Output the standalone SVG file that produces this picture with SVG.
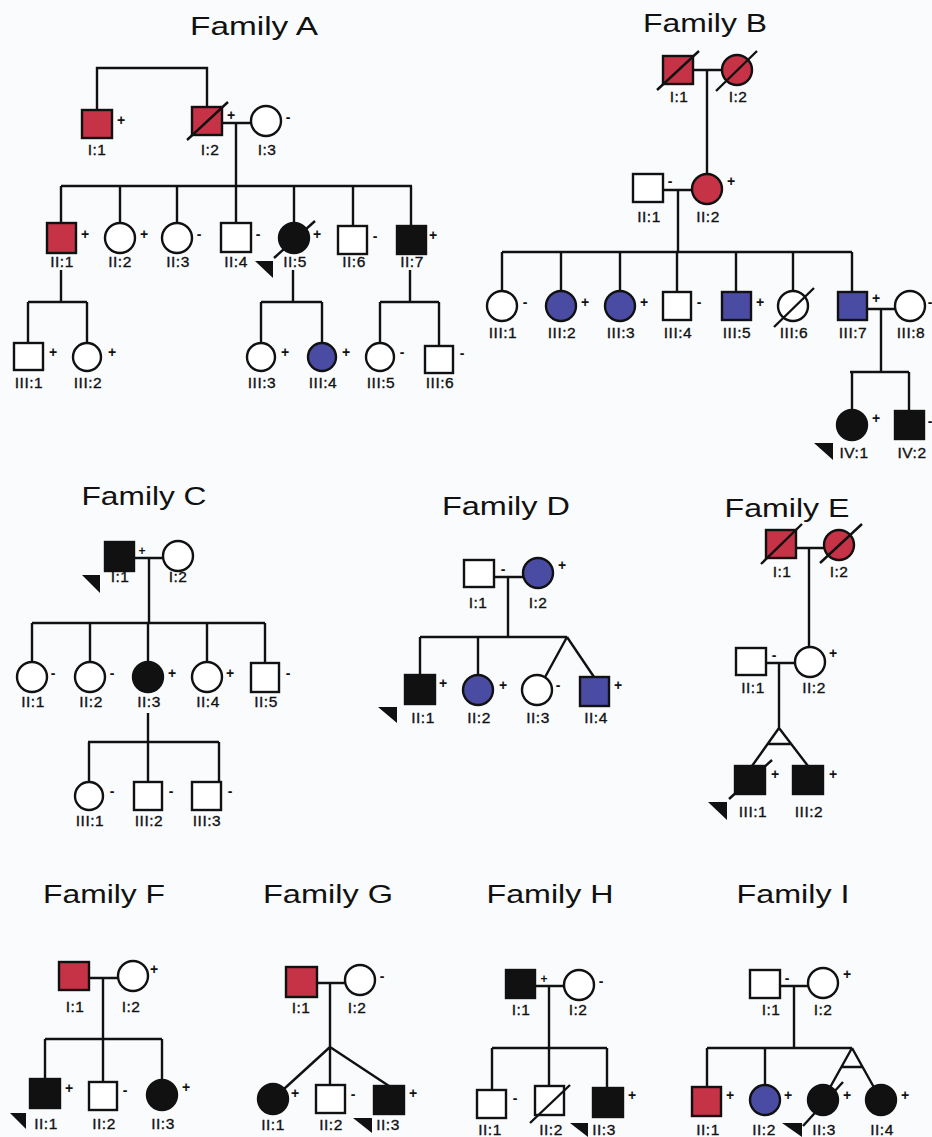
<svg xmlns="http://www.w3.org/2000/svg" width="932" height="1137" viewBox="0 0 932 1137">
<style>
.ln{stroke:#111;stroke-width:2.4;fill:none}
.s{stroke:#111;stroke-width:2.4}
.u{fill:#fff}.r{fill:#c73346}.b{fill:#4a4ca3}.k{fill:#111}
.sl{stroke:#111;stroke-width:2.4}
.pa{fill:#111}
text{font-family:"Liberation Sans",Arial,sans-serif;fill:#111}
.t{font-size:25px;text-anchor:middle}
.l{font-size:15.5px;text-anchor:middle;letter-spacing:0.5px;stroke:#111;stroke-width:0.35}
.g{font-size:14px;font-weight:bold;text-anchor:middle}
</style>
<rect width="932" height="1137" fill="#f9fbfd"/>

<!-- Titles -->
<g id="titles">
<text class="t" x="254" y="35" textLength="128" lengthAdjust="spacingAndGlyphs">Family A</text>
<text class="t" x="705" y="32" textLength="124" lengthAdjust="spacingAndGlyphs">Family B</text>
<text class="t" x="144" y="505" textLength="125" lengthAdjust="spacingAndGlyphs">Family C</text>
<text class="t" x="506" y="515" textLength="128" lengthAdjust="spacingAndGlyphs">Family D</text>
<text class="t" x="787" y="517" textLength="125" lengthAdjust="spacingAndGlyphs">Family E</text>
<text class="t" x="104" y="903" textLength="122" lengthAdjust="spacingAndGlyphs">Family F</text>
<text class="t" x="328" y="903" textLength="130" lengthAdjust="spacingAndGlyphs">Family G</text>
<text class="t" x="550" y="903" textLength="127" lengthAdjust="spacingAndGlyphs">Family H</text>
<text class="t" x="793" y="903" textLength="113" lengthAdjust="spacingAndGlyphs">Family I</text>
</g>

<!-- Connectors -->
<g id="connectors" class="ln">
<!-- A -->
<path d="M97,110 V68 H207 V107"/>
<path d="M222,123 H251 M236,123 V186 M61,186 H412"/>
<path d="M61,186 V223 M120,186 V223 M177,186 V223 M236,186 V223 M294,186 V223 M353,186 V226 M411,186 V226"/>
<path d="M61,270 V302 M28,302 H87 M28,302 V343 M87,302 V343"/>
<path d="M293,270 V302 M261,302 H322 M261,302 V343 M322,302 V343"/>
<path d="M410,270 V302 M380,302 H439 M380,302 V343 M439,302 V346"/>
<!-- B -->
<path d="M693,70 H722 M707,70 V174 M663,190 H692 M678,190 V252 M502,252 H852"/>
<path d="M502,252 V292 M561,252 V292 M620,252 V292 M677,252 V292 M736,252 V292 M793,252 V292 M852,252 V292"/>
<path d="M867,309 H895 M881,309 V372 M850,372 H909 M852,372 V410 M909,372 V411"/>
<!-- C -->
<path d="M134,558 H163 M149,558 V623 M32,623 H265"/>
<path d="M32,623 V662 M90,623 V662 M148,623 V662 M207,623 V662 M265,623 V663"/>
<path d="M148,713 V742 M88,742 H219 M89,742 V782 M148,742 V782 M219,742 V782"/>
<!-- D -->
<path d="M494,577 H523 M508,577 V637 M420,637 H567 M420,637 V675 M478,637 V675 M567,637 L538,690 M567,637 L594,677"/>
<!-- E -->
<path d="M796,548 H824 M809,548 V647 M766,663 H795 M779,663 V728 M779,728 L752,766 M779,728 L808,766 M767,744 H791"/>
<!-- F -->
<path d="M89,978 H118 M103,978 V1039 M45,1039 H162 M45,1039 V1079 M103,1039 V1082 M162,1039 V1080"/>
<!-- G -->
<path d="M317,983 H345 M330,983 V1047 M330,1047 L273,1099 M330,1047 V1085 M330,1047 L389,1086"/>
<!-- H -->
<path d="M535,986 H564 M549,986 V1048 M492,1048 H607 M492,1048 V1090 M549,1048 V1086 M607,1048 V1088"/>
<!-- I -->
<path d="M780,986 H808 M794,986 V1048 M707,1048 H852 M707,1048 V1087 M765,1048 V1085 M852,1048 L823,1100 M852,1048 L881,1100 M841,1067 H863"/>
</g>

<!-- Family A nodes -->
<g id="A-I1"><rect class="s r" x="82" y="110" width="30" height="28"/><text class="g" x="121" y="125">+</text><text class="l" x="97" y="155">I:1</text></g>
<g id="A-I2"><rect class="s r" x="192" y="107" width="30" height="28"/><line class="sl" x1="187" y1="140" x2="228" y2="102"/><text class="g" x="231" y="120">+</text><text class="l" x="210" y="155">I:2</text></g>
<g id="A-I3"><circle class="s u" cx="266" cy="121" r="15"/><text class="g" x="288" y="122">-</text><text class="l" x="267" y="155">I:3</text></g>
<g id="A-II1"><rect class="s r" x="47" y="223" width="29" height="30"/><text class="g" x="85" y="239">+</text><text class="l" x="62" y="267">II:1</text></g>
<g id="A-II2"><circle class="s u" cx="120" cy="238" r="15"/><text class="g" x="144" y="239">+</text><text class="l" x="120" y="267">II:2</text></g>
<g id="A-II3"><circle class="s u" cx="177" cy="238" r="15"/><text class="g" x="199" y="239">-</text><text class="l" x="178" y="267">II:3</text></g>
<g id="A-II4"><rect class="s u" x="221" y="223" width="30" height="29"/><text class="g" x="258" y="239">-</text><text class="l" x="236" y="267">II:4</text></g>
<g id="A-II5"><circle class="s k" cx="294" cy="238" r="15"/><line class="sl" x1="274" y1="258" x2="315" y2="221"/><text class="g" x="317" y="239">+</text><text class="l" x="295" y="267">II:5</text><polygon class="pa" points="255,261 273,261 273,278"/></g>
<g id="A-II6"><rect class="s u" x="338" y="226" width="29" height="28"/><text class="g" x="375" y="241">-</text><text class="l" x="354" y="267">II:6</text></g>
<g id="A-II7"><rect class="s k" x="397" y="226" width="29" height="28"/><text class="g" x="433" y="240">+</text><text class="l" x="412" y="267">II:7</text></g>
<g id="A-III1"><rect class="s u" x="14" y="343" width="29" height="27"/><text class="g" x="53" y="357">+</text><text class="l" x="29" y="388">III:1</text></g>
<g id="A-III2"><circle class="s u" cx="87" cy="357" r="14"/><text class="g" x="112" y="357">+</text><text class="l" x="88" y="388">III:2</text></g>
<g id="A-III3"><circle class="s u" cx="261" cy="357" r="14"/><text class="g" x="285" y="357">+</text><text class="l" x="262" y="388">III:3</text></g>
<g id="A-III4"><circle class="s b" cx="322" cy="357" r="14"/><text class="g" x="346" y="357">+</text><text class="l" x="323" y="388">III:4</text></g>
<g id="A-III5"><circle class="s u" cx="380" cy="357" r="14"/><text class="g" x="402" y="357">-</text><text class="l" x="381" y="388">III:5</text></g>
<g id="A-III6"><rect class="s u" x="425" y="346" width="28" height="27"/><text class="g" x="462" y="358">-</text><text class="l" x="440" y="388">III:6</text></g>

<!-- Family B nodes -->
<g id="B-I1"><rect class="s r" x="663" y="56" width="30" height="28"/><line class="sl" x1="657" y1="90" x2="699" y2="51"/><text class="l" x="679" y="102">I:1</text></g>
<g id="B-I2"><circle class="s r" cx="737" cy="70" r="15"/><line class="sl" x1="716" y1="91" x2="757" y2="51"/><text class="l" x="738" y="102">I:2</text></g>
<g id="B-II1"><rect class="s u" x="633" y="174" width="30" height="28"/><text class="g" x="670" y="186">-</text><text class="l" x="649" y="222">II:1</text></g>
<g id="B-II2"><circle class="s r" cx="707" cy="189" r="15"/><text class="g" x="731" y="186">+</text><text class="l" x="708" y="222">II:2</text></g>
<g id="B-III1"><circle class="s u" cx="502" cy="306" r="15"/><text class="g" x="525" y="307">-</text><text class="l" x="503" y="338">III:1</text></g>
<g id="B-III2"><circle class="s b" cx="561" cy="306" r="15"/><text class="g" x="585" y="307">+</text><text class="l" x="562" y="338">III:2</text></g>
<g id="B-III3"><circle class="s b" cx="620" cy="306" r="15"/><text class="g" x="644" y="307">+</text><text class="l" x="621" y="338">III:3</text></g>
<g id="B-III4"><rect class="s u" x="663" y="292" width="28" height="28"/><text class="g" x="699" y="307">-</text><text class="l" x="678" y="338">III:4</text></g>
<g id="B-III5"><rect class="s b" x="722" y="292" width="29" height="28"/><text class="g" x="760" y="307">+</text><text class="l" x="737" y="338">III:5</text></g>
<g id="B-III6"><circle class="s u" cx="793" cy="306" r="15"/><line class="sl" x1="774" y1="327" x2="814" y2="288"/><text class="l" x="794" y="338">III:6</text></g>
<g id="B-III7"><rect class="s b" x="838" y="292" width="29" height="28"/><text class="g" x="876" y="303">+</text><text class="l" x="853" y="338">III:7</text></g>
<g id="B-III8"><circle class="s u" cx="910" cy="306" r="15"/><text class="g" x="930" y="307">-</text><text class="l" x="911" y="338">III:8</text></g>
<g id="B-IV1"><circle class="s k" cx="852" cy="425" r="15"/><text class="g" x="876" y="423">+</text><text class="l" x="854" y="458">IV:1</text><polygon class="pa" points="814,443 833,443 833,460"/></g>
<g id="B-IV2"><rect class="s k" x="895" y="411" width="29" height="28"/><text class="g" x="930" y="426">-</text><text class="l" x="912" y="458">IV:2</text></g>

<!-- Family C nodes -->
<g id="C-I1"><rect class="s k" x="105" y="542" width="29" height="29"/><text class="g" x="142" y="555" style="font-size:12px">+</text><text class="l" x="120" y="582">I:1</text><polygon class="pa" points="82,575 100,575 100,593"/></g>
<g id="C-I2"><circle class="s u" cx="178" cy="556" r="15"/><text class="l" x="178" y="582">I:2</text></g>
<g id="C-II1"><circle class="s u" cx="32" cy="677" r="15"/><text class="g" x="53" y="678">-</text><text class="l" x="33" y="707">II:1</text></g>
<g id="C-II2"><circle class="s u" cx="90" cy="677" r="15"/><text class="g" x="112" y="678">-</text><text class="l" x="91" y="707">II:2</text></g>
<g id="C-II3"><circle class="s k" cx="148" cy="677" r="15"/><text class="g" x="172" y="678">+</text><text class="l" x="149" y="707">II:3</text></g>
<g id="C-II4"><circle class="s u" cx="207" cy="677" r="15"/><text class="g" x="230" y="678">+</text><text class="l" x="208" y="707">II:4</text></g>
<g id="C-II5"><rect class="s u" x="251" y="663" width="28" height="29"/><text class="g" x="288" y="678">-</text><text class="l" x="266" y="707">II:5</text></g>
<g id="C-III1"><circle class="s u" cx="89" cy="796" r="14"/><text class="g" x="112" y="796">-</text><text class="l" x="90" y="826">III:1</text></g>
<g id="C-III2"><rect class="s u" x="134" y="782" width="28" height="28"/><text class="g" x="171" y="796">-</text><text class="l" x="149" y="826">III:2</text></g>
<g id="C-III3"><rect class="s u" x="192" y="782" width="29" height="28"/><text class="g" x="230" y="796">-</text><text class="l" x="207" y="826">III:3</text></g>

<!-- Family D nodes -->
<g id="D-I1"><rect class="s u" x="464" y="560" width="30" height="27"/><text class="g" x="503" y="574">-</text><text class="l" x="478" y="608">I:1</text></g>
<g id="D-I2"><circle class="s b" cx="538" cy="573" r="15"/><text class="g" x="562" y="570">+</text><text class="l" x="538" y="608">I:2</text></g>
<g id="D-II1"><rect class="s k" x="405" y="675" width="30" height="29"/><text class="g" x="443" y="688">+</text><text class="l" x="423" y="723">II:1</text><polygon class="pa" points="378,707 397,707 397,723"/></g>
<g id="D-II2"><circle class="s b" cx="478" cy="690" r="15"/><text class="g" x="503" y="690">+</text><text class="l" x="479" y="723">II:2</text></g>
<g id="D-II3"><circle class="s u" cx="537" cy="690" r="15"/><text class="g" x="558" y="690">-</text><text class="l" x="538" y="723">II:3</text></g>
<g id="D-II4"><rect class="s b" x="580" y="677" width="29" height="29"/><text class="g" x="618" y="690">+</text><text class="l" x="596" y="723">II:4</text></g>

<!-- Family E nodes -->
<g id="E-I1"><rect class="s r" x="766" y="530" width="30" height="28"/><line class="sl" x1="761" y1="564" x2="802" y2="524"/><text class="l" x="782" y="577">I:1</text></g>
<g id="E-I2"><circle class="s r" cx="839" cy="545" r="15"/><line class="sl" x1="820" y1="563" x2="862" y2="524"/><text class="l" x="839" y="577">I:2</text></g>
<g id="E-II1"><rect class="s u" x="736" y="648" width="30" height="27"/><text class="g" x="774" y="660">-</text><text class="l" x="753" y="693">II:1</text></g>
<g id="E-II2"><circle class="s u" cx="810" cy="662" r="15"/><text class="g" x="833" y="658">+</text><text class="l" x="814" y="693">II:2</text></g>
<g id="E-III1"><rect class="s k" x="735" y="766" width="30" height="28"/><line class="sl" x1="729" y1="799" x2="772" y2="760"/><text class="g" x="775" y="779">+</text><text class="l" x="753" y="817">III:1</text><polygon class="pa" points="708,802 727,802 727,820"/></g>
<g id="E-III2"><rect class="s k" x="793" y="766" width="30" height="28"/><text class="g" x="833" y="779">+</text><text class="l" x="809" y="817">III:2</text></g>

<!-- Family F nodes -->
<g id="F-I1"><rect class="s r" x="59" y="962" width="30" height="28"/><text class="l" x="75" y="1012">I:1</text></g>
<g id="F-I2"><circle class="s u" cx="133" cy="976" r="15"/><text class="g" x="154" y="974">+</text><text class="l" x="131" y="1012">I:2</text></g>
<g id="F-II1"><rect class="s k" x="30" y="1079" width="30" height="29"/><text class="g" x="69" y="1093">+</text><text class="l" x="46" y="1129">II:1</text><polygon class="pa" points="10,1113 26,1113 26,1129"/></g>
<g id="F-II2"><rect class="s u" x="89" y="1082" width="28" height="28"/><text class="g" x="125" y="1095">-</text><text class="l" x="104" y="1129">II:2</text></g>
<g id="F-II3"><circle class="s k" cx="162" cy="1095" r="15"/><text class="g" x="186" y="1092">+</text><text class="l" x="163" y="1129">II:3</text></g>

<!-- Family G nodes -->
<g id="G-I1"><rect class="s r" x="286" y="967" width="31" height="30"/><text class="l" x="301" y="1013">I:1</text></g>
<g id="G-I2"><circle class="s u" cx="360" cy="980" r="15"/><text class="g" x="382" y="981">-</text><text class="l" x="357" y="1013">I:2</text></g>
<g id="G-II1"><circle class="s k" cx="273" cy="1099" r="15"/><text class="g" x="295" y="1098">+</text><text class="l" x="273" y="1130">II:1</text></g>
<g id="G-II2"><rect class="s u" x="316" y="1085" width="29" height="28"/><text class="g" x="353" y="1099">-</text><text class="l" x="331" y="1130">II:2</text></g>
<g id="G-II3"><rect class="s k" x="374" y="1086" width="30" height="28"/><text class="g" x="413" y="1098">+</text><text class="l" x="388" y="1130">II:3</text><polygon class="pa" points="353,1118 372,1118 372,1133"/></g>

<!-- Family H nodes -->
<g id="H-I1"><rect class="s k" x="506" y="970" width="29" height="28"/><text class="g" x="544" y="983" style="font-size:12px">+</text><text class="l" x="521" y="1015">I:1</text></g>
<g id="H-I2"><circle class="s u" cx="579" cy="985" r="15"/><text class="g" x="601" y="986">-</text><text class="l" x="578" y="1015">I:2</text></g>
<g id="H-II1"><rect class="s u" x="477" y="1090" width="29" height="28"/><text class="g" x="515" y="1103">-</text><text class="l" x="490" y="1135">II:1</text></g>
<g id="H-II2"><rect class="s u" x="535" y="1086" width="29" height="29"/><line class="sl" x1="530" y1="1123" x2="570" y2="1085"/><text class="l" x="551" y="1135">II:2</text></g>
<g id="H-II3"><rect class="s k" x="593" y="1088" width="30" height="29"/><text class="g" x="632" y="1100">+</text><text class="l" x="604" y="1135">II:3</text><polygon class="pa" points="570,1123 588,1123 588,1137"/></g>

<!-- Family I nodes -->
<g id="I-I1"><rect class="s u" x="750" y="970" width="30" height="28"/><text class="g" x="787" y="983">-</text><text class="l" x="771" y="1015">I:1</text></g>
<g id="I-I2"><circle class="s u" cx="823" cy="983" r="15"/><text class="g" x="847" y="979">+</text><text class="l" x="823" y="1015">I:2</text></g>
<g id="I-II1"><rect class="s r" x="692" y="1087" width="29" height="29"/><text class="g" x="730" y="1100">+</text><text class="l" x="708" y="1135">II:1</text></g>
<g id="I-II2"><circle class="s b" cx="765" cy="1100" r="15"/><text class="g" x="788" y="1100">+</text><text class="l" x="764" y="1135">II:2</text><polygon class="pa" points="782,1123 802,1123 802,1137"/></g>
<g id="I-II3"><circle class="s k" cx="823" cy="1100" r="15"/><line class="sl" x1="803" y1="1126" x2="843" y2="1082"/><text class="g" x="847" y="1100">+</text><text class="l" x="824" y="1135">II:3</text></g>
<g id="I-II4"><circle class="s k" cx="881" cy="1100" r="15"/><text class="g" x="905" y="1100">+</text><text class="l" x="882" y="1135">II:4</text></g>
</svg>
